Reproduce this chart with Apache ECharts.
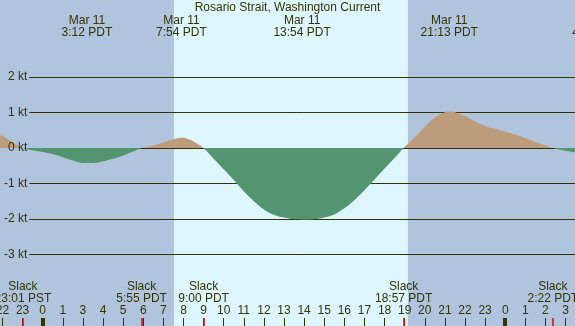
<!DOCTYPE html>
<html><head><meta charset="utf-8">
<script src="https://cdn.jsdelivr.net/npm/echarts@6/dist/echarts.min.js"></script>
<style>html,body{margin:0;padding:0;background:#b0c4de;overflow:hidden}#c{width:575px;height:326px}</style>
</head><body><div id="c"></div>
<script>
// time: hours since Mar 11 00:00 PST (DST jump at 2:00 -> 3:00 PDT)
const hoursPST = [-2.12, -1.5, -0.98, -0.5, 0, 0.5, 1.0, 1.5, 2.0, 2.5, 3.0, 3.5, 4.0, 4.5, 4.917, 5.5, 6.0, 6.5, 6.9, 7.3, 7.7, 8.0,
  8.5, 9.0, 9.5, 10.0, 10.5, 11.0, 11.5, 12.0, 12.5, 13.0, 13.5, 14.0, 14.5, 15.0, 15.5, 16.0, 16.5, 17.0, 17.5, 17.95,
  18.5, 19.0, 19.5, 20.0, 20.22, 20.5, 21.0, 21.5, 22.0, 22.5, 23.0, 23.5, 24.0, 24.5, 25.0, 25.37, 26.0, 26.47];
const speedKt  = [0.37, 0.17, 0, -0.06, -0.11, -0.17, -0.26, -0.35, -0.42, -0.42, -0.37, -0.30, -0.21, -0.10, 0, 0.07, 0.16, 0.25, 0.29, 0.24, 0.12, 0,
  -0.30, -0.60, -0.90, -1.22, -1.50, -1.73, -1.88, -1.96, -2.01, -2.02, -2.01, -1.96, -1.87, -1.70, -1.47, -1.19, -0.89, -0.58, -0.28, 0,
  0.30, 0.60, 0.86, 1.01, 1.03, 1.01, 0.90, 0.75, 0.63, 0.54, 0.46, 0.38, 0.28, 0.17, 0.07, 0, -0.08, -0.13];
const gridKt = [2, 1, 0, -1, -2, -3];
const gridLabels = ['2 kt', '1 kt', '0 kt', '-1 kt', '-2 kt', '-3 kt'];
const hourTicks = [-2,-1,0,1,2,3,4,5,6,7,8,9,10,11,12,13,14,15,16,17,18,19,20,21,22,23,24,25,26];
const hourLabels = ['22','23','0','1','3','4','5','6','7','8','9','10','11','12','13','14','15','16','17','18','19','20','21','22','23','0','1','2','3'];
const midnightTicks = [0, 23];
const slackTimes = [-0.983, 4.917, 8.0, 17.95, 25.367];
const slackLabels = ['23:01 PST', '5:55 PDT', '9:00 PDT', '18:57 PDT', '2:22 PDT'];
const eventTimes = [2.2, 6.9, 12.9, 20.217, 27.59];
const eventDates = ['Mar 11', 'Mar 11', 'Mar 11', 'Mar 11', 'Mar 12'];
const eventClock = ['3:12 PDT', '7:54 PDT', '13:54 PDT', '21:13 PDT', '4:35 PDT'];
const daylight = [6.53, 18.16];

const xMin = -2.1233, xMax = 26.47, yMin = -5.014, yMax = 4.169;
const tickKt = 8 / 35.5;
const ink = '#333300', nightC = '#b0c4de', dayC = '#ddf6fd', ebbC = '#529570', floodC = '#bd9c7c', slackC = '#e00000';
const font = 'Liberation Sans, Arial, sans-serif';
const txt = {color: ink, fontSize: 12, fontFamily: font, lineHeight: 12};

const chart = echarts.init(document.getElementById('c'), null, {renderer: 'canvas'});
chart.setOption({
  animation: false,
  backgroundColor: nightC,
  title: {text: 'Rosario Strait, Washington Current', left: 'center', top: -3,
    textStyle: {color: ink, fontSize: 12, fontWeight: 'normal', fontFamily: font}, z: 10},
  grid: {left: 0, right: 0, top: 0, bottom: 0, outerBoundsMode: 'none', containLabel: false},
  xAxis: {type: 'value', min: xMin, max: xMax, z: 10,
    axisLine: {show: false, onZero: false}, splitLine: {show: false},
    axisTick: {show: true, inside: true, length: 8, customValues: hourTicks, lineStyle: {color: ink, width: 1}},
    axisLabel: {show: true, inside: true, margin: 9, customValues: hourTicks,
      formatter: v => hourLabels[hourTicks.indexOf(Math.round(v))], color: ink, fontSize: 12, fontFamily: font}},
  yAxis: {type: 'value', min: yMin, max: yMax, show: false, splitLine: {show: false}},
  visualMap: {show: false, type: 'piecewise', dimension: 1, seriesIndex: 2,
    pieces: [{min: -100, max: 0, color: ebbC}, {gt: 0, max: 100, color: floodC}]},
  series: [
    {type: 'line', data: [], z: 1,
      markArea: {silent: true, z: 1, itemStyle: {color: dayC}, data: [[{xAxis: daylight[0]}, {xAxis: daylight[1]}]]}},
    {type: 'line', data: [], z: 2,
      markLine: {silent: true, z: 2, symbol: ['none', 'none'], lineStyle: {color: ink, width: 1, type: 'solid'}, label: {show: false},
        data: gridKt.map(v => [{coord: [-0.666, v]}, {coord: [xMax, v]}])}},
    {type: 'line', data: hoursPST.map((t, i) => [t, speedKt[i]]), z: 3, smooth: 0.4, showSymbol: false,
      lineStyle: {width: 0}, areaStyle: {opacity: 1}},
    {type: 'line', data: [], z: 10,
      markLine: {silent: true, z: 10, symbol: ['none', 'none'], lineStyle: {color: 'rgba(0,0,0,0)', width: 0},
        label: Object.assign({show: true, position: 'start', distance: 2}, txt),
        data: gridKt.map((v, i) => [{coord: [-0.666, v], label: {formatter: gridLabels[i]}}, {coord: [xMax, v]}])}},
    {type: 'line', data: [], z: 10,
      markLine: {silent: true, z: 10, symbol: ['none', 'none'], lineStyle: {color: ink, width: 4, type: 'solid'}, label: {show: false},
        data: midnightTicks.map(t => [{coord: [t, yMin]}, {coord: [t, yMin + tickKt]}])}},
    {type: 'line', data: [], z: 11,
      markLine: {silent: true, z: 11, symbol: ['none', 'none'], lineStyle: {color: slackC, width: 1.5, type: 'solid'},
        label: Object.assign({show: true, position: 'end', distance: 13}, txt),
        data: slackTimes.map((t, i) => [{coord: [t, yMin]}, {coord: [t, yMin + tickKt], label: {formatter: 'Slack\n' + slackLabels[i]}}])}}
  ]
});
const evGraphics = eventTimes.map((t, i) => ({
  type: 'text', z: 10, x: chart.convertToPixel({xAxisIndex: 0}, t), y: 15,
  style: {text: eventDates[i] + '\n' + eventClock[i], fill: ink, font: '12px ' + font, align: 'center', verticalAlign: 'top', lineHeight: 12}
}));
chart.setOption({graphic: evGraphics});
</script></body></html>
